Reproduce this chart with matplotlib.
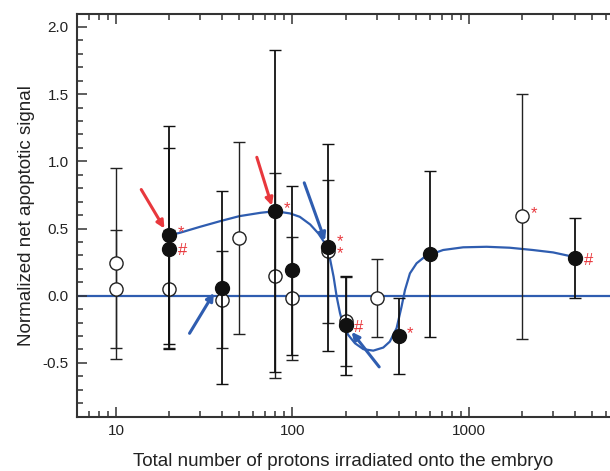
import numpy as np
import matplotlib
matplotlib.use("Agg")
import matplotlib.pyplot as plt
from matplotlib.ticker import LogLocator, MultipleLocator, NullFormatter, FixedLocator, FixedFormatter

plt.rcParams['font.family'] = ['Liberation Sans', 'DejaVu Sans']

# filled circles (x, y, error)
filled_x = [20, 20, 40, 80, 100, 160, 200, 400, 600, 4000]
filled_y = [0.45, 0.35, 0.06, 0.63, 0.19, 0.36, -0.22, -0.30, 0.31, 0.28]
filled_err = [0.81, 0.75, 0.72, 1.20, 0.63, 0.77, 0.37, 0.28, 0.62, 0.30]

# open circles
open_x = [10, 10, 20, 40, 50, 80, 100, 160, 200, 300, 2000]
open_y = [0.24, 0.05, 0.05, -0.03, 0.43, 0.15, -0.02, 0.33, -0.19, -0.02, 0.59]
open_err = [0.71, 0.44, 0.44, 0.36, 0.715, 0.76, 0.46, 0.53, 0.33, 0.29, 0.91]

# fitted curve
curve_x = [20, 23, 30, 39, 50, 66, 80, 97, 110, 126, 140, 153, 163, 171, 178, 186,
           194, 207, 226, 252, 287, 327, 356, 389, 415, 434, 463, 505, 562, 601,
           714, 927, 1260, 1700, 2300, 3000, 3890, 4000]
curve_y = [0.45, 0.468, 0.513, 0.555, 0.592, 0.617, 0.629, 0.612, 0.587, 0.53, 0.464,
           0.389, 0.278, 0.141, -0.007, -0.131, -0.218, -0.292, -0.354, -0.398,
           -0.409, -0.386, -0.342, -0.242, -0.082, 0.042, 0.166, 0.241, 0.29, 0.305,
           0.34, 0.36, 0.364, 0.357, 0.34, 0.322, 0.29, 0.285]

# significance marks: (x, y, text)
marks = [(20, 0.45, '*'), (20, 0.35, '#'), (80, 0.63, '*'), (160, 0.36, '*\n*'),
         (200, -0.22, '#'), (400, -0.30, '*'), (2000, 0.59, '*'), (4000, 0.28, '#')]

# arrows: (tail x, tail y, head x, head y, colour)
red = '#e8383d'
blue = '#2f5db0'
arrows = [(13.9, 0.79, 18.8, 0.50, red), (62.8, 1.03, 76.4, 0.67, red),
          (26.1, -0.28, 35.9, 0.02, blue), (116.6, 0.84, 152.8, 0.41, blue),
          (310, -0.53, 216.6, -0.27, blue)]

fig = plt.figure(figsize=(6.10, 4.71), dpi=100)
ax = fig.add_axes([0.126, 0.1146, 0.874, 0.855])

ax.axhline(0, color=blue, lw=1.6, zorder=1)
ax.plot(curve_x, curve_y, color=blue, lw=1.6, zorder=2, solid_joinstyle='round')

ax.errorbar(open_x, open_y, yerr=open_err, fmt='o', mfc='white', mec='#222222',
            mew=1.0, ms=9.5, ecolor='#222222', elinewidth=1.0, capsize=4.5,
            capthick=1.0, zorder=3)
ax.errorbar(filled_x, filled_y, yerr=filled_err, fmt='o', mfc='#111111', mec='#111111',
            ms=10, ecolor='#111111', elinewidth=1.3, capsize=4.5, capthick=1.0,
            zorder=4)

for x, y, t in marks:
    dy = 2 if t == '*' else (-1.5 if t == '#' else 0)
    ax.annotate(t, (x, y), xytext=(6, dy), textcoords='offset points', color=red,
                fontsize=12, va='center', ha='left', linespacing=0.75, zorder=5)

for x0, y0, x1, y1, c in arrows:
    ax.annotate('', xy=(x1, y1), xytext=(x0, y0),
                arrowprops=dict(arrowstyle='-|>', color=c, lw=2.2,
                                mutation_scale=11, shrinkA=0, shrinkB=0), zorder=5)

ax.set_xscale('log')
ax.set_xlim(6, 6300)
ax.set_ylim(-0.903, 2.094)

ax.xaxis.set_major_locator(FixedLocator([10, 100, 1000]))
ax.xaxis.set_major_formatter(FixedFormatter(['10', '100', '1000']))
ax.xaxis.set_minor_locator(LogLocator(base=10, subs=np.arange(2, 10)))
ax.xaxis.set_minor_formatter(NullFormatter())
ax.yaxis.set_major_locator(MultipleLocator(0.5))
ax.yaxis.set_minor_locator(MultipleLocator(0.1))
ax.yaxis.set_major_formatter(plt.FuncFormatter(lambda v, p: f'{v:.1f}'))

ax.tick_params(which='both', direction='in', top=True, right=False,
               colors='#333333', labelcolor='#222222', width=1.1)
ax.tick_params(which='major', length=7, labelsize=11)
ax.tick_params(which='minor', length=4)
ax.tick_params(axis='x', pad=5)
ax.tick_params(axis='y', pad=6)

for s in ['left', 'top', 'bottom']:
    ax.spines[s].set_linewidth(1.5)
    ax.spines[s].set_color('#333333')
ax.spines['right'].set_visible(False)

ax.set_xlabel('Total number of protons irradiated onto the embryo', fontsize=13.5,
              color='#222222', labelpad=11)
ax.set_ylabel('Normalized net apoptotic signal', fontsize=13.5, color='#222222',
              labelpad=5)

fig.savefig('out.png', dpi=100)
